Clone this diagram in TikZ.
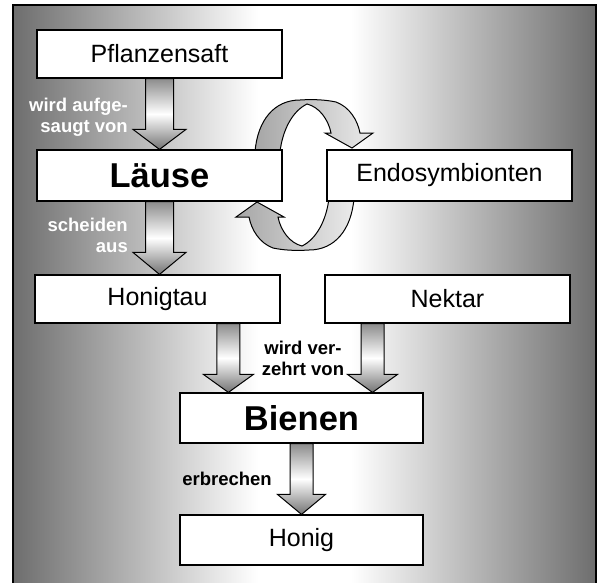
\documentclass[tikz,border=0pt]{standalone}
\usepackage{fontspec}
\setmainfont{Liberation Sans}
\usetikzlibrary{calc}
\pgfdeclarehorizontalshading{bgshade}{100bp}{color(0bp)=(black!57); color(25bp)=(black!57); color(46bp)=(white); color(54bp)=(white); color(75bp)=(black!57); color(100bp)=(black!57)}
\tikzset{
  box/.style={draw=black, line width=1.2pt, fill=white, minimum width=245pt, inner sep=0pt},
  normtext/.style={font=\fontsize{25}{28}\selectfont},
  bigtext/.style={font=\bfseries\fontsize{34.5}{38}\selectfont},
  lab/.style={font=\bfseries\fontsize{18.5}{21}\selectfont, inner sep=0pt},
  barrow/.style={draw=black, line width=1pt, top color=black!45, bottom color=black!55, middle color=white},
  loopband/.style={draw=black, line width=1pt, left color=black!35, right color=black!8}
}
\newcommand\blockarr[5]{% start, end, shaft half, head half, head length
  \path[barrow] let \p1=#1, \p2=#2 in
    (\x1-#3,\y1) -- (\x1-#3,\y2+#5) -- (\x1-#4,\y2+#5) -- (\x1,\y2) --
    (\x1+#4,\y2+#5) -- (\x1+#3,\y2+#5) -- (\x1+#3,\y1) -- cycle;}
\newcommand\loopband{%
  \path[loopband] (-49.5,-23) .. controls (-47,-55) and (-30,-75) .. (-4.5,-75)
    .. controls (10,-76) and (22,-75) .. (31.5,-73)
    .. controls (45,-68) and (53,-55) .. (55.5,-42) -- (68.5,-42) -- (47.5,-27) -- (20.5,-42) -- (26.5,-42)
    .. controls (24,-55) and (15,-68) .. (2.5,-71)
    .. controls (-12,-64) and (-22,-45) .. (-24.5,-23) -- cycle;}
\begin{document}
\begin{tikzpicture}[x=1pt,y=-1pt]
\useasboundingbox (0,0) rectangle (599,582);
\fill[white] (0,0) rectangle (599,582);
\shade[shading=bgshade] (13,5) rectangle (596,592);
\draw[line width=2pt] (13,592) -- (13,5) -- (596,5) -- (596,592);

% cycle between Laeuse and Endosymbionten
\begin{scope}[shift={(304.5,175)}]
  \loopband
\end{scope}
\begin{scope}[shift={(304.5,175)}, rotate=180]
  \loopband
\end{scope}

% boxes
\node[box, normtext, minimum height=48pt] (pfl) at (159.5,54) {Pflanzensaft};
\node[box, bigtext, minimum height=51pt] (laus) at (159.5,175.5) {Läuse};
\node[box, normtext, minimum height=51pt] (endo) at (449.5,175.5) {Endosymbionten};
\node[box, normtext, minimum height=48pt] (honigtau) at (157.5,299) {Honigtau};
\node[box, normtext, minimum height=48pt] (nektar) at (447.5,299) {Nektar};
\node[box, bigtext, minimum height=50pt, minimum width=243pt] (bienen) at (301.5,418) {Bienen};
\node[box, normtext, minimum height=50pt, minimum width=243pt] (honig) at (301.5,540) {Honig};

% block arrows
\blockarr{(pfl.south)}{(laus.north)}{14pt}{26.5pt}{20pt}
\blockarr{(laus.south)}{(honigtau.north)}{14pt}{26.5pt}{22pt}
\blockarr{($(honigtau.south -| bienen.west)+(49,0)$)}{(bienen.north)}{11.5pt}{25pt}{18pt}
\blockarr{($(nektar.south)+(-75,0)$)}{(bienen.north)}{11.5pt}{25pt}{18pt}
\blockarr{(bienen.south)}{(honig.north)}{11.5pt}{24pt}{20pt}

% labels
\node[lab, text=white, align=right, anchor=east] (l1) at (128,117.5) {wird aufge-\\saugt von};
\node[lab, text=white, align=right, anchor=east] (l2) at (128,235.5) {scheiden\\aus};
\node[lab, text=black, align=center] (l3) at (303,358) {wird ver-\\zehrt von};
\node[lab, text=black] (l4) at (227,479) {erbrechen};
\end{tikzpicture}
\end{document}
